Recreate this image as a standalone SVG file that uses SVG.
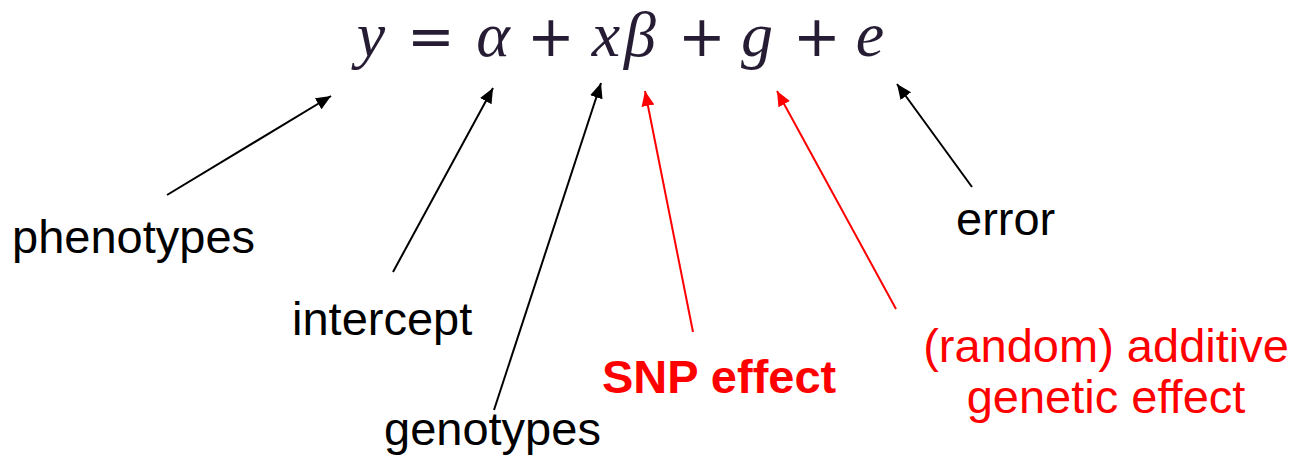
<svg xmlns="http://www.w3.org/2000/svg" width="1294" height="457" viewBox="0 0 1294 457">
<style>
.eq{font-family:"Liberation Serif",serif;font-style:italic;font-size:64px;fill:#261d35;text-anchor:middle}
.op{font-family:"DejaVu Sans",sans-serif;font-style:normal;font-size:57px;fill:#261d35;text-anchor:middle}
.lbl{font-family:"Liberation Sans",Arial,sans-serif;font-size:47px;fill:#000}
.red{fill:#ff0000}
.bold{font-weight:bold}
.k{stroke:#000;stroke-width:2;fill:none}
.r{stroke:#ff0000;stroke-width:2;fill:none}
</style>
<defs>
<marker id="ak" markerUnits="userSpaceOnUse" markerWidth="16" markerHeight="14" refX="15" refY="6.5" orient="auto"><path d="M0,0 L15,6.5 L0,13 z" fill="#000"/></marker>
<marker id="ar" markerUnits="userSpaceOnUse" markerWidth="16" markerHeight="14" refX="15" refY="6.5" orient="auto"><path d="M0,0 L15,6.5 L0,13 z" fill="#ff0000"/></marker>
</defs>
<g id="equation">
<text class="eq" x="371" y="56">y</text>
<text class="op" x="431" y="56">=</text>
<text class="eq" x="493" y="56">α</text>
<text class="op" x="551" y="56">+</text>
<text class="eq" x="606" y="56">x</text>
<text class="eq" x="640" y="56">β</text>
<text class="op" x="702" y="56">+</text>
<text class="eq" x="757" y="56">g</text>
<text class="op" x="817" y="56">+</text>
<text class="eq" x="870" y="56">e</text>
</g>
<g id="connectors">
<line class="k" x1="167" y1="195" x2="331" y2="96" marker-end="url(#ak)"/>
<line class="k" x1="393" y1="272" x2="493" y2="88" marker-end="url(#ak)"/>
<line class="k" x1="494" y1="410" x2="601" y2="83" marker-end="url(#ak)"/>
<line class="r" x1="693" y1="332" x2="645" y2="91" marker-end="url(#ar)"/>
<line class="r" x1="896" y1="309" x2="777" y2="91" marker-end="url(#ar)"/>
<line class="k" x1="972" y1="187" x2="897" y2="84" marker-end="url(#ak)"/>
</g>
<g id="phenotypes"><text class="lbl" x="12" y="253">phenotypes</text></g>
<g id="intercept"><text class="lbl" x="292" y="335">intercept</text></g>
<g id="genotypes"><text class="lbl" x="384" y="445">genotypes</text></g>
<g id="snp-effect"><text class="lbl red bold" x="602" y="393">SNP effect</text></g>
<g id="additive-effect"><text class="lbl red" x="1106" y="362" text-anchor="middle">(random) additive</text><text class="lbl red" x="1106" y="413" text-anchor="middle">genetic effect</text></g>
<g id="error"><text class="lbl" x="956" y="235" font-size="45">error</text></g>
</svg>
